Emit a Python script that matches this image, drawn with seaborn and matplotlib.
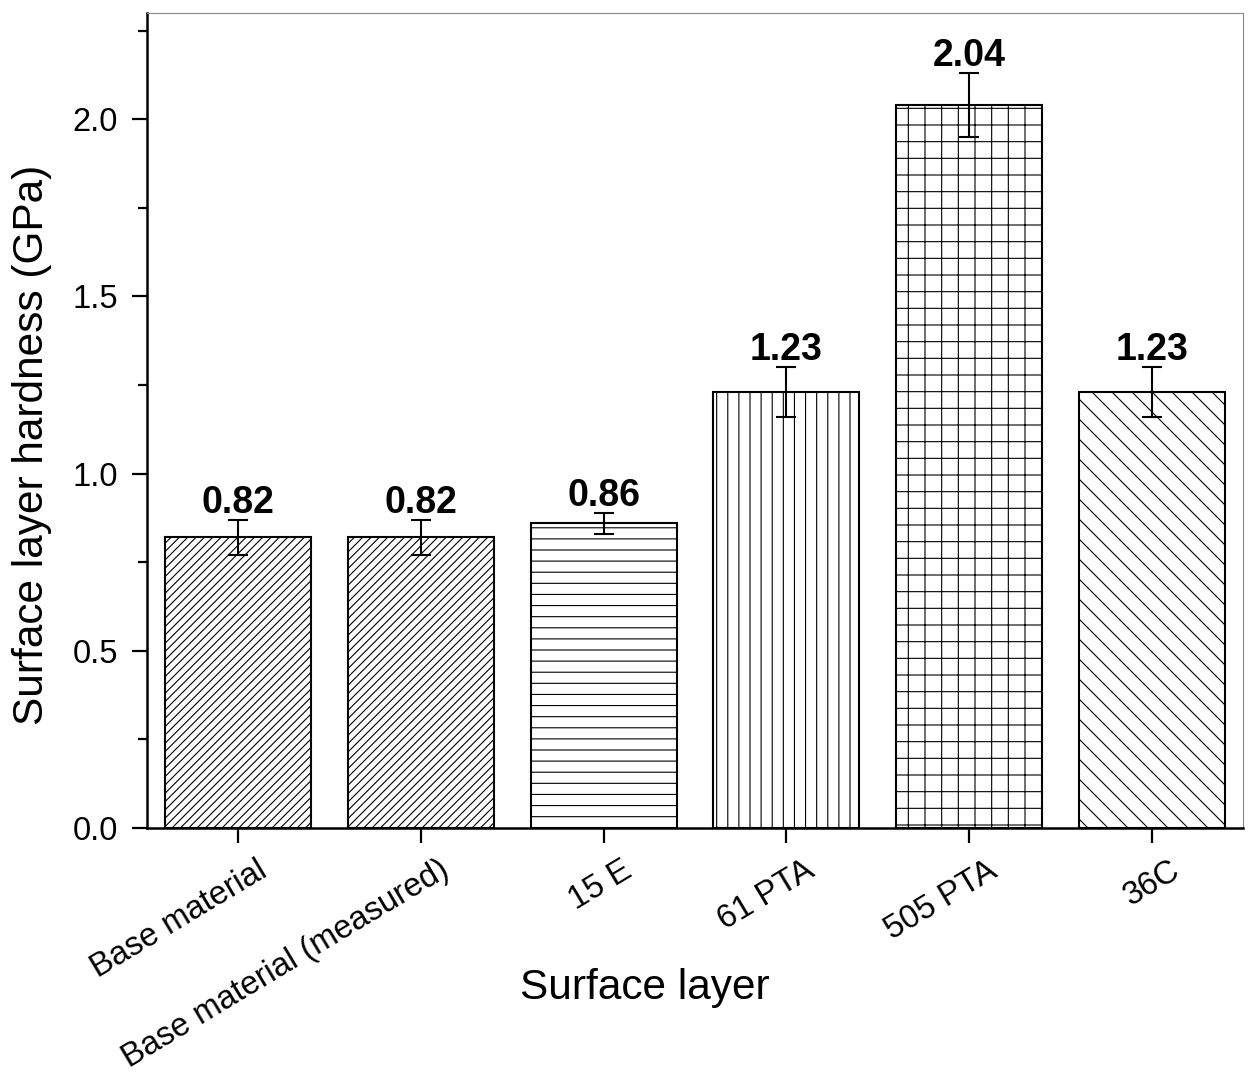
import numpy as np
import pandas as pd
import seaborn as sns
import matplotlib
matplotlib.use('Agg')
from matplotlib import pyplot as plt
from matplotlib.ticker import MultipleLocator, FormatStrFormatter
import matplotlib.transforms as mtransforms
import matplotlib.hatch as mhatch

layers = ['Base material', 'Base material (measured)', '15 E', '61 PTA', '505 PTA', '36C']
hardness = [0.82, 0.82, 0.86, 1.23, 2.04, 1.23]
hardness_err = [0.05, 0.05, 0.03, 0.07, 0.09, 0.07]
hatches = ['////', '////', '-', '|', '+', '\\']


# hatch spacing closer to the original (lines per inch)
class HLines(mhatch.HorizontalHatch):
    def __init__(self, hatch, density):
        super().__init__(hatch, density)
        if '+' not in hatch:
            self.num_lines = 9 * hatch.count('-')
            self.num_vertices = self.num_lines * 2


class VLines(mhatch.VerticalHatch):
    def __init__(self, hatch, density):
        super().__init__(hatch, density)
        if '+' not in hatch:
            self.num_lines = 9 * hatch.count('|')
            self.num_vertices = self.num_lines * 2


class SELines(mhatch.SouthEastHatch):
    def __init__(self, hatch, density):
        super().__init__(hatch, density)
        n = hatch.count('\\')
        if n and 'x' not in hatch.lower():
            self.num_lines = 10 * n
            self.num_vertices = (self.num_lines + 1) * 2


mhatch._hatch_types[0] = HLines
mhatch._hatch_types[1] = VLines
mhatch._hatch_types[3] = SELines

df = pd.DataFrame({'layer': layers, 'hardness': hardness})

sns.set_style('ticks')
plt.rcParams['font.family'] = ['Liberation Sans', 'DejaVu Sans']
plt.rcParams['hatch.linewidth'] = 0.8
for key in ['text.color', 'axes.labelcolor', 'xtick.color', 'ytick.color']:
    plt.rcParams[key] = 'black'

fig = plt.figure(figsize=(12.54, 10.77), dpi=100)
ax = fig.add_axes([0.1172, 0.2312, 0.874, 0.7567])

sns.barplot(data=df, x='layer', y='hardness', color='white', edgecolor='black',
            linewidth=1.5, width=0.8, errorbar=None, ax=ax)

for bar, h in zip(ax.patches, hatches):
    bar.set_hatch(h)
    bar.set_facecolor('white')
    bar.set_edgecolor('black')

xs = np.arange(len(layers))
ax.errorbar(xs, hardness, yerr=hardness_err, fmt='none', ecolor='black',
            elinewidth=1.5, capsize=7.5, capthick=1.5, zorder=5)

for x, v, e in zip(xs, hardness, hardness_err):
    ax.annotate(f'{v:.2f}', (x, v + e), xytext=(0, 5), textcoords='offset points',
                ha='center', va='baseline', fontsize=27, fontweight='bold')

ax.set_xlim(-0.5, 5.5)
ax.set_ylim(0, 2.3)
ax.yaxis.set_major_locator(MultipleLocator(0.5))
ax.yaxis.set_minor_locator(MultipleLocator(0.25))
ax.yaxis.set_major_formatter(FormatStrFormatter('%.1f'))

ax.tick_params(axis='both', which='major', direction='out', length=11, width=1.6,
               labelsize=23.5)
ax.tick_params(axis='y', which='major', pad=10)
ax.tick_params(axis='y', which='minor', direction='out', length=6.5, width=1.6)

ax.set_xticks(xs)
ax.set_xticklabels(layers, rotation=31, ha='right', va='top', rotation_mode='anchor',
                   fontsize=23.5)
offset = mtransforms.ScaledTranslation(0.18, -0.065, fig.dpi_scale_trans)
for lbl in ax.get_xticklabels():
    lbl.set_transform(lbl.get_transform() + offset)

for side in ['left', 'bottom']:
    ax.spines[side].set_linewidth(1.8)
    ax.spines[side].set_color('black')
for side in ['top', 'right']:
    ax.spines[side].set_visible(True)
    ax.spines[side].set_linewidth(0.8)
    ax.spines[side].set_color('#888888')

ax.set_xlabel('Surface layer', fontsize=30.5)
ax.set_ylabel('Surface layer hardness (GPa)', fontsize=30.5)
ax.xaxis.set_label_coords(0.454, -0.172)
ax.yaxis.set_label_coords(-0.087, 0.47)

fig.savefig('out.png', dpi=100)
